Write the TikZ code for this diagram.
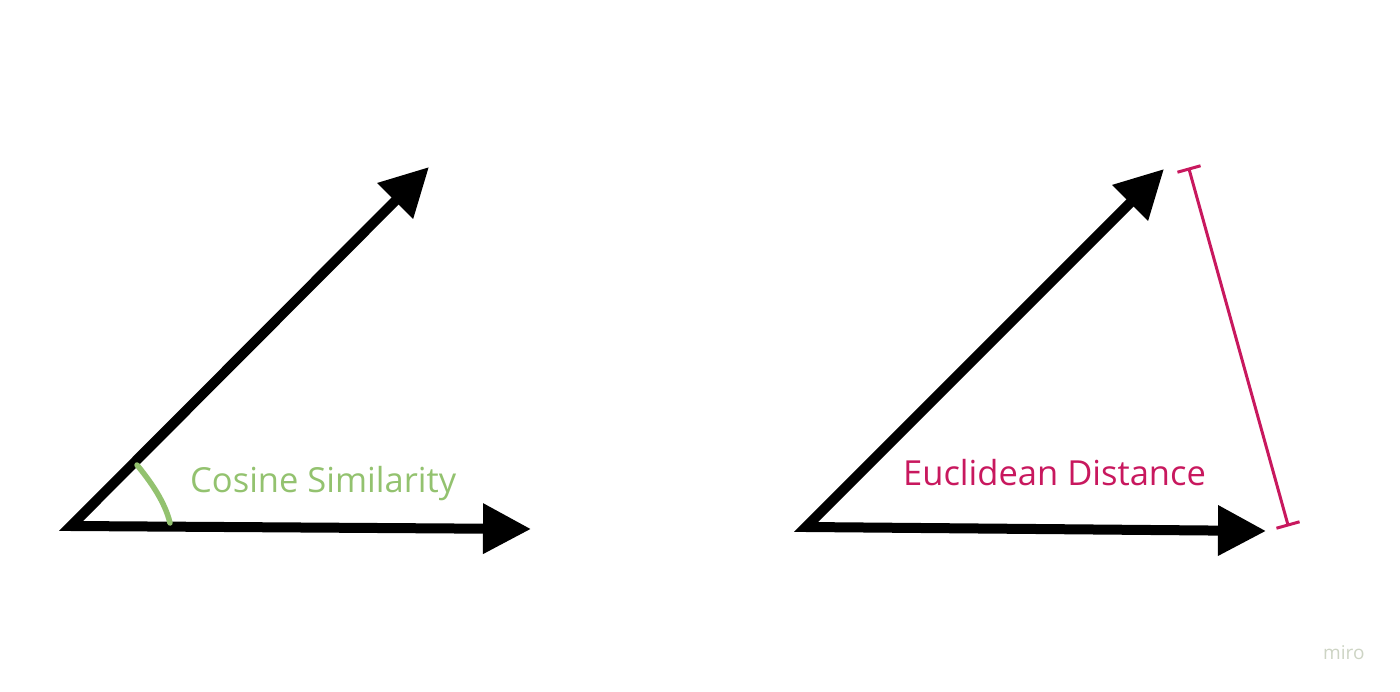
\documentclass[tikz,border=0pt]{standalone}
\usepackage{fontspec}
\setmainfont{Open Sans}
\usetikzlibrary{arrows.meta,calc}
\definecolor{simgreen}{RGB}{147,194,111}
\definecolor{distpink}{RGB}{200,24,94}
\definecolor{mirogray}{RGB}{205,212,196}
\tikzset{
  vec/.style={line width=10pt, line join=miter, {Triangle[length=48pt,width=48pt]}-{Triangle[length=48pt,width=48pt]}},
  angarc/.style={simgreen, line width=5.5pt, line cap=round},
  distbar/.style={distpink, line width=3pt},
  lbl/.style={inner sep=0pt, font=\fontsize{34.5}{40}\selectfont}
}
\begin{document}
\begin{tikzpicture}[x=1pt,y=-1pt]
\useasboundingbox (0,0) rectangle (1400,692);
% left diagram
\coordinate (O1) at (71,526);
\coordinate (U1) at (429,167);
\coordinate (R1) at (531,529);
\draw[vec] (U1) -- (O1) -- (R1);
\coordinate (g1) at (137,465);
\coordinate (g2) at (170,523);
\draw[angarc] (g1) .. controls (151,482) and (165,502) .. (g2);
\node[lbl, text=simgreen, anchor=base west] (cos) at (190,492) {Cosine Similarity};
% right diagram
\coordinate (O2) at (806,527);
\coordinate (U2) at (1164,169);
\coordinate (R2) at (1266,531);
\draw[vec] (U2) -- (O2) -- (R2);
\coordinate (d1) at (1189,169);
\coordinate (d2) at (1288,525);
\draw[distbar] (d1) -- (d2);
\draw[distbar] ($(d1)!12pt!90:(d2)$) -- ($(d1)!12pt!-90:(d2)$);
\draw[distbar] ($(d2)!12pt!90:(d1)$) -- ($(d2)!12pt!-90:(d1)$);
\node[lbl, text=distpink, anchor=base west] (euc) at (903,485) {Euclidean Distance};
% watermark
\node[inner sep=0pt, anchor=base west, text=mirogray, font=\fontsize{19}{22}\selectfont] (miro) at (1323,659) {miro};
\end{tikzpicture}
\end{document}
